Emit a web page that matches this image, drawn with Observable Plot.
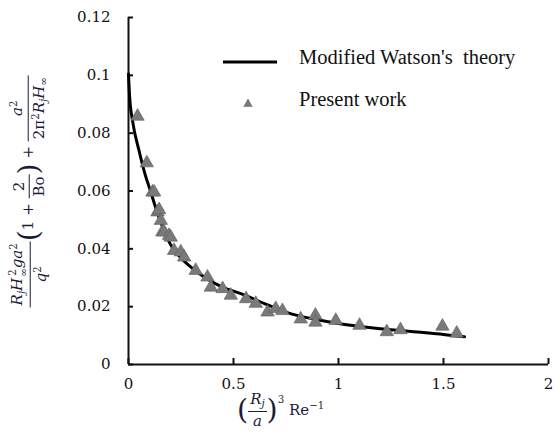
<!DOCTYPE html>
<html>
<head>
<meta charset="utf-8">
<script src="https://cdn.jsdelivr.net/npm/d3@7"></script>
<script src="https://cdn.jsdelivr.net/npm/@observablehq/plot@0.6"></script>
<style>
  html, body { margin: 0; padding: 0; background: #fff; }
  #wrap { position: relative; width: 557px; height: 432px; overflow: hidden; }
  #chart { position: absolute; left: 0; top: 0; }
  #chart svg text { font-family: "DejaVu Serif", serif; font-size: 15px; fill: #111; }
  .math { font-family: "DejaVu Serif", serif; color: #1c1c38; white-space: nowrap; position: absolute; left: 0; top: 0; }
  .math i { font-style: italic; }
  .frac { display: inline-flex; flex-direction: column; vertical-align: middle; text-align: center; line-height: 1.15; }
  .frac > .num { border-bottom: 1.3px solid currentColor; padding: 0 2px 1px; }
  .frac > .den { padding: 1px 2px 0; }
  .ss { display: inline-flex; flex-direction: column; vertical-align: middle; font-size: 0.68em; line-height: 1; margin-left: 1px; }
  .sup { font-size: 0.68em; vertical-align: 0.55em; }
  .sub { font-size: 0.68em; vertical-align: -0.3em; }
  .paren { font-size: 1.9em; font-weight: 200; vertical-align: middle; line-height: 1; }
  #legend { position: absolute; left: 0; top: 0; font-family: "Liberation Serif", "Times New Roman", serif; font-size: 20.5px; color: #111; }
  .lg { position: absolute; white-space: nowrap; }
</style>
</head>
<body>
<div id="wrap">
  <div id="chart"></div>
  <div id="ylab" class="math" style="font-size:15px; transform: rotate(-90deg);">
    <span class="frac"><span class="num"><i>R</i><span class="sub"><i>j</i></span><i>H</i><span class="ss"><span>2</span><span>∞</span></span><i>ga</i><span class="sup">2</span></span><span class="den"><i>q</i><span class="sup">2</span></span></span><span class="paren">(</span>1 + <span class="frac"><span class="num">2</span><span class="den">Bo</span></span><span class="paren">)</span> + <span class="frac"><span class="num"><i>a</i><span class="sup">2</span></span><span class="den">2π<span class="sup">2</span><i>R</i><span class="sub"><i>j</i></span><i>H</i><span class="sub">∞</span></span></span>
  </div>
  <div id="xlab" class="math" style="font-size:15px;">
    <span class="paren">(</span><span class="frac"><span class="num"><i>R</i><span class="sub"><i>j</i></span></span><span class="den"><i>a</i></span></span><span class="paren">)</span><span class="sup" style="vertical-align:1.1em">3</span> Re<span class="sup">−1</span>
  </div>
  <div id="legend">
    <svg class="lg" style="left:222px; top:58px;" width="56" height="8"><line x1="1" y1="4" x2="55" y2="4" stroke="#000" stroke-width="3"/></svg>
    <div class="lg" style="left:299px; top:46px;">Modified Watson's&nbsp; theory</div>
    <svg class="lg" style="left:243px; top:98px;" width="10" height="10"><path d="M5,1 L9.2,8.5 L0.8,8.5 Z" fill="#7a7a7a" stroke="#666" stroke-width="0.5"/></svg>
    <div class="lg" style="left:299px; top:88px;">Present work</div>
  </div>
</div>
<script>
// Modified Watson's theory curve
const theoryX = [0, 0.005, 0.02, 0.05, 0.08, 0.1, 0.14, 0.2, 0.25, 0.3, 0.375, 0.45, 0.535, 0.65, 0.775, 0.9, 1.0, 1.125, 1.25, 1.375, 1.5, 1.6];
const theoryY = [0.1005, 0.093, 0.084, 0.074, 0.0655, 0.061, 0.052, 0.0415, 0.0368, 0.0335, 0.0296, 0.0267, 0.0245, 0.021, 0.0175, 0.0155, 0.0142, 0.013, 0.012, 0.0112, 0.0104, 0.0096];

// Present work (triangles)
const workX = [0.043, 0.087, 0.114, 0.122, 0.138, 0.146, 0.154, 0.161, 0.170, 0.193, 0.201, 0.217, 0.249, 0.265, 0.320, 0.376, 0.392, 0.448, 0.487, 0.560, 0.606, 0.662, 0.701, 0.733, 0.820, 0.890, 0.890, 0.987, 1.100, 1.230, 1.295, 1.495, 1.563];
const workY = [0.0858, 0.0697, 0.0596, 0.0596, 0.0527, 0.0535, 0.0498, 0.0458, 0.0458, 0.0446, 0.0440, 0.0394, 0.0389, 0.0371, 0.0325, 0.0302, 0.0267, 0.0262, 0.0239, 0.0227, 0.0211, 0.0181, 0.0193, 0.0186, 0.0157, 0.0170, 0.0146, 0.0152, 0.0135, 0.0113, 0.0120, 0.0132, 0.0108];

const xTicks = [0, 0.5, 1, 1.5, 2];
const yTicks = [0, 0.02, 0.04, 0.06, 0.08, 0.1, 0.12];

const theory = theoryX.map((x, i) => ({x, y: theoryY[i]}));
const work = workX.map((x, i) => ({x, y: workY[i]}));

const fmt = d => String(d);
const W = 557, H = 432, mL = 128, mR = 9, mT = 17, mB = 68;

const chart = Plot.plot({
  width: W,
  height: H,
  marginLeft: mL,
  marginRight: mR,
  marginTop: mT,
  marginBottom: mB,
  x: {domain: [0, 2]},
  y: {domain: [0, 0.12]},
  style: {fontFamily: "'DejaVu Serif', serif", fontSize: "15px", color: "#111", background: "#fff", overflow: "visible"},
  marks: [
    Plot.axisX({ticks: xTicks, tickFormat: fmt, tickSize: 0, tickPadding: 14, label: null}),
    Plot.axisY({ticks: yTicks, tickFormat: fmt, tickSize: 0, tickPadding: 18, label: null}),
    Plot.tickX(xTicks, {x: d => d, insetTop: H - mT - mB - 6, strokeWidth: 2}),
    Plot.tickY(yTicks, {y: d => d, insetRight: W - mL - mR - 5, strokeWidth: 2}),
    Plot.ruleX([0], {strokeWidth: 2}),
    Plot.ruleY([0], {strokeWidth: 2}),
    Plot.line(theory, {x: "x", y: "y", curve: "monotone-x", stroke: "#000", strokeWidth: 3}),
    Plot.dot(work, {x: "x", y: "y", symbol: "triangle", r: 5, fill: "#7a7a7a", stroke: "#5e5e5e", strokeWidth: 0.6})
  ]
});
document.getElementById("chart").appendChild(chart);

// place the math labels by their bounding boxes
const wrapBox = document.getElementById("wrap").getBoundingClientRect();
function placeCenter(el, cx, cy) {
  const r = el.getBoundingClientRect();
  const dx = cx - (r.left - wrapBox.left + r.width / 2);
  const dy = cy - (r.top - wrapBox.top + r.height / 2);
  el.style.left = (parseFloat(el.style.left || 0) + dx) + "px";
  el.style.top = (parseFloat(el.style.top || 0) + dy) + "px";
}
function placeLeft(el, lx, cy) {
  const r = el.getBoundingClientRect();
  const dx = lx - (r.left - wrapBox.left);
  const dy = cy - (r.top - wrapBox.top + r.height / 2);
  el.style.left = (parseFloat(el.style.left || 0) + dx) + "px";
  el.style.top = (parseFloat(el.style.top || 0) + dy) + "px";
}
placeCenter(document.getElementById("ylab"), 29, 191);
placeLeft(document.getElementById("xlab"), 237, 411);
</script>
</body>
</html>
